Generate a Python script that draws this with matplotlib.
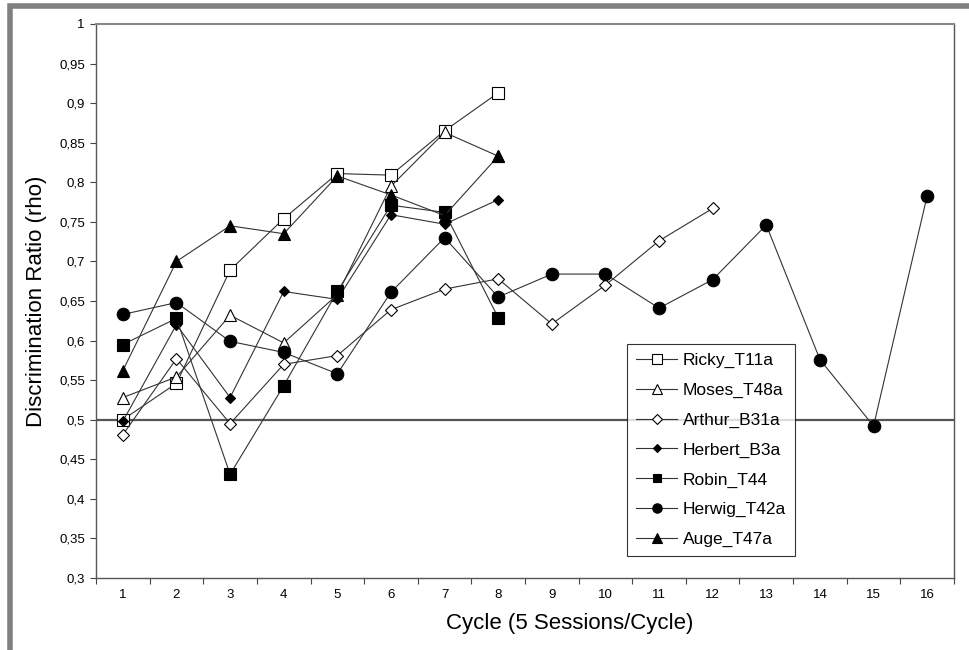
import matplotlib
matplotlib.use("Agg")
import matplotlib.pyplot as plt
from matplotlib.ticker import FixedLocator, FuncFormatter, NullFormatter
from matplotlib.patches import Rectangle

plt.rcParams['font.family'] = ['Liberation Sans', 'DejaVu Sans']

# discrimination ratio per cycle
ricky = [0.500, 0.546, 0.689, 0.754, 0.811, 0.809, 0.865, 0.913]
moses = [0.528, 0.554, 0.632, 0.597, 0.658, 0.795, 0.863, 0.833]
arthur = [0.481, 0.577, 0.495, 0.570, 0.581, 0.639, 0.665, 0.678,
          0.621, 0.670, 0.726, 0.767]
herbert = [0.498, 0.620, 0.528, 0.662, 0.652, 0.759, 0.747, 0.778]
robin = [0.595, 0.628, 0.431, 0.543, 0.662, 0.771, 0.762, 0.629]
herwig = [0.633, 0.648, 0.599, 0.585, 0.558, 0.661, 0.730, 0.655,
          0.684, 0.684, 0.641, 0.677, 0.746, 0.576, 0.492, 0.783]
auge = [0.562, 0.700, 0.745, 0.735, 0.808, 0.784, 0.758, 0.833]

names = ["Ricky_T11a", "Moses_T48a", "Arthur_B31a", "Herbert_B3a",
         "Robin_T44", "Herwig_T42a", "Auge_T47a"]
series = [ricky, moses, arthur, herbert, robin, herwig, auge]
markers = ["s", "^", "D", "D", "s", "o", "^"]
filled = [False, False, False, True, True, True, True]
sizes = [9, 9, 6.3, 5.6, 8.5, 9, 9]

fig = plt.figure(figsize=(9.69, 6.5), dpi=100)
ax = fig.add_axes([0.0991, 0.1108, 0.8854, 0.8523])

for vals, name, m, f, ms in zip(series, names, markers, filled, sizes):
    x = list(range(1, len(vals) + 1))
    ax.plot(x, vals, color="#333333", linewidth=0.8, marker=m, markersize=ms,
            markerfacecolor="black" if f else "white",
            markeredgecolor="black", markeredgewidth=0.8, label=name)

ax.axhline(0.5, color="#555555", linewidth=1.6, zorder=1)

ax.set_xlim(0.5, 16.5)
ax.set_ylim(0.3, 1.0)

# category axis: ticks between categories, labels on them
ax.xaxis.set_major_locator(FixedLocator([i + 0.5 for i in range(0, 17)]))
ax.xaxis.set_major_formatter(NullFormatter())
ax.xaxis.set_minor_locator(FixedLocator(list(range(1, 17))))
ax.xaxis.set_minor_formatter(FuncFormatter(lambda v, p: "%d" % v))
ax.tick_params(axis="x", which="major", length=4, width=0.8, color="#444444")
ax.tick_params(axis="x", which="minor", length=0, labelsize=9.5, pad=8)

yt = [0.3 + 0.05 * i for i in range(15)]
ax.yaxis.set_major_locator(FixedLocator(yt))
ax.yaxis.set_major_formatter(FuncFormatter(lambda v, p: ("%g" % round(v, 2)).replace(".", ",")))
ax.tick_params(axis="y", length=4, width=0.8, color="#444444", labelsize=9.5, pad=4)

for s in ax.spines.values():
    s.set_color("#555555")
    s.set_linewidth(1.0)
ax.spines["top"].set_color("#888888")
ax.spines["top"].set_linewidth(1.5)

ax.set_ylabel("Discrimination Ratio (rho)", fontsize=16)
ax.yaxis.set_label_coords(-0.057, 0.5)
ax.set_xlabel("Cycle (5 Sessions/Cycle)", fontsize=16)
ax.xaxis.set_label_coords(0.5524, -0.063)

leg = ax.legend(loc="lower left", bbox_to_anchor=(0.619, 0.0397), fontsize=12.5,
                frameon=True, fancybox=False, edgecolor="black",
                labelspacing=0.84, handlelength=2.4, handletextpad=0.3,
                borderpad=0.5, borderaxespad=0)
leg.get_frame().set_linewidth(0.8)
for h in leg.legend_handles:
    h.set_markersize(h.get_markersize() * 0.75)

# gray outer frame of the original picture
fig.patches.append(Rectangle((9.5 / 969, -0.1), 1.2, 1.1 - 5.5 / 650,
                             transform=fig.transFigure, fill=False,
                             edgecolor="#808080", linewidth=4))

fig.savefig("out.png", dpi=100)
